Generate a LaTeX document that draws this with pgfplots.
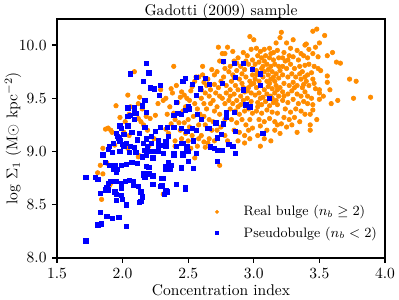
\documentclass[border=0pt]{standalone}
\usepackage{pgfplots}
\pgfplotsset{compat=1.18}
\usepackage{pgfplotstable}
\definecolor{borange}{HTML}{FF8C00}
\definecolor{bblue}{HTML}{0000FF}
\pgfplotsset{dotlegend/.style={legend image code/.code={\path (0pt,0pt) (20pt,0pt); \draw[mark repeat=2,mark phase=2,##1,mark size=1.05pt] plot coordinates {(0pt,0pt) (5pt,0pt) (10pt,0pt)};}}}
\pgfplotstableread{
x y
1.84 8.55
1.81 8.80
1.83 8.87
1.88 8.89
1.91 8.70
1.90 8.68
1.85 8.79
1.85 9.03
1.94 9.06
1.89 9.22
1.91 9.20
1.87 9.21
1.92 9.18
1.95 9.43
2.02 9.28
2.04 9.03
2.04 9.53
2.09 9.75
2.12 8.95
2.13 8.96
2.13 9.51
2.12 9.31
2.06 9.42
2.12 9.45
2.05 9.35
2.14 9.28
2.16 9.25
2.21 9.31
2.18 9.33
2.25 9.34
2.27 9.45
2.29 9.58
2.31 9.48
2.19 9.20
2.24 9.12
2.20 9.05
2.05 9.15
2.15 9.40
1.98 9.32
2.01 9.18
2.39 9.80
2.37 9.59
2.33 9.50
2.36 9.42
2.38 9.55
2.44 9.51
2.45 9.56
2.47 9.53
2.49 9.50
2.51 9.48
2.52 9.57
2.53 9.61
2.55 9.66
2.56 9.70
2.58 9.70
2.55 9.45
2.57 9.40
2.48 9.42
2.46 9.38
2.42 9.46
2.39 9.36
2.37 9.26
2.40 9.30
2.43 9.27
2.51 9.23
2.50 9.30
2.54 9.33
2.58 9.25
2.56 9.20
2.53 9.15
2.48 9.17
2.44 9.20
2.35 9.17
2.33 9.21
2.40 9.10
2.40 9.05
2.50 9.10
2.55 8.94
2.57 9.05
2.52 9.03
2.45 9.12
2.31 8.60
2.59 9.35
2.60 9.50
2.41 9.62
2.34 9.35
2.47 9.27
2.58 9.12
2.61 9.80
2.73 9.98
2.72 9.75
2.70 9.72
2.68 9.77
2.65 9.68
2.62 9.65
2.60 9.58
2.63 9.55
2.66 9.52
2.62 9.45
2.64 9.40
2.67 9.45
2.69 9.48
2.71 9.55
2.73 9.60
2.75 9.66
2.77 9.70
2.78 9.78
2.76 9.92
2.78 9.92
2.77 9.84
2.74 9.85
2.79 9.55
2.76 9.50
2.72 9.42
2.70 9.38
2.74 9.35
2.78 9.30
2.62 9.33
2.66 9.30
2.69 9.28
2.63 9.25
2.68 9.20
2.72 9.20
2.75 9.23
2.62 9.09
2.63 9.04
2.65 9.08
2.66 9.12
2.70 9.10
2.74 8.87
2.60 9.15
2.78 9.15
2.80 9.10
2.78 9.45
2.64 9.62
2.70 9.63
2.74 9.52
2.79 9.62
2.67 9.58
2.61 9.72
2.84 9.94
2.80 9.98
2.97 10.08
3.00 10.05
2.98 9.96
2.95 9.90
2.92 9.93
2.88 9.88
2.85 9.85
2.82 9.80
2.81 9.75
2.84 9.72
2.87 9.76
2.90 9.80
2.93 9.77
2.96 9.82
2.99 9.86
2.83 9.66
2.86 9.62
2.89 9.68
2.91 9.64
2.94 9.70
2.97 9.66
2.99 9.72
2.82 9.58
2.85 9.54
2.88 9.58
2.90 9.52
2.93 9.56
2.96 9.60
2.98 9.55
2.81 9.48
2.84 9.45
2.87 9.48
2.90 9.44
2.92 9.48
2.95 9.50
2.98 9.47
2.82 9.40
2.86 9.38
2.89 9.35
2.93 9.38
2.96 9.40
2.99 9.36
2.83 9.30
2.87 9.27
2.91 9.30
2.94 9.25
2.97 9.30
2.85 9.20
2.89 9.18
2.93 9.15
2.96 9.20
2.99 9.22
2.88 9.10
2.93 9.08
2.97 9.12
2.95 9.57
2.91 9.73
2.87 9.83
2.94 9.85
2.82 9.52
2.98 9.63
2.92 9.60
2.85 9.70
2.99 9.78
2.88 9.42
3.05 9.94
3.02 9.97
3.08 9.96
3.12 9.97
3.15 9.93
3.17 10.02
3.20 10.07
3.21 10.12
3.18 9.95
3.03 9.90
3.06 9.88
3.09 9.90
3.12 9.88
3.15 9.86
3.19 9.88
3.01 9.82
3.04 9.84
3.07 9.80
3.10 9.82
3.13 9.80
3.16 9.82
3.19 9.80
3.02 9.76
3.05 9.73
3.08 9.75
3.11 9.72
3.14 9.75
3.17 9.73
3.20 9.76
3.01 9.68
3.04 9.66
3.07 9.70
3.10 9.66
3.13 9.68
3.16 9.66
3.19 9.69
3.02 9.60
3.05 9.62
3.08 9.58
3.11 9.61
3.14 9.59
3.17 9.62
3.20 9.60
3.01 9.53
3.04 9.55
3.07 9.51
3.10 9.54
3.13 9.52
3.16 9.55
3.19 9.52
3.03 9.46
3.06 9.44
3.09 9.47
3.12 9.43
3.15 9.46
3.18 9.44
3.02 9.38
3.06 9.36
3.10 9.39
3.14 9.37
3.18 9.36
3.04 9.30
3.08 9.28
3.12 9.31
3.16 9.28
3.05 9.24
3.10 9.20
3.16 9.20
3.03 9.15
3.08 9.12
3.13 9.10
3.20 9.17
3.18 9.25
3.05 9.05
3.15 9.70
3.06 9.78
3.12 9.64
3.00 9.64
3.18 9.58
3.08 9.85
3.14 9.50
3.02 9.72
3.11 9.77
3.17 9.48
3.05 9.50
3.13 9.92
3.03 9.42
3.30 10.05
3.25 10.02
3.28 9.97
3.23 9.93
3.33 9.95
3.36 9.92
3.39 10.00
3.38 9.90
3.22 9.88
3.26 9.86
3.30 9.89
3.34 9.86
3.39 9.81
3.22 9.80
3.25 9.78
3.28 9.82
3.31 9.78
3.35 9.80
3.37 9.75
3.22 9.72
3.26 9.70
3.29 9.73
3.32 9.70
3.36 9.68
3.39 9.70
3.23 9.64
3.27 9.62
3.30 9.65
3.33 9.62
3.37 9.60
3.22 9.56
3.26 9.54
3.29 9.57
3.33 9.54
3.36 9.52
3.39 9.56
3.22 9.48
3.26 9.46
3.30 9.49
3.34 9.45
3.38 9.47
3.24 9.40
3.28 9.37
3.32 9.40
3.36 9.38
3.23 9.32
3.27 9.30
3.31 9.32
3.25 9.23
3.33 9.18
3.29 9.25
3.35 9.28
3.39 9.35
3.21 9.26
3.24 9.85
3.31 9.60
3.27 9.90
3.35 9.73
3.38 9.63
3.23 9.52
3.45 10.13
3.48 10.15
3.54 10.09
3.50 10.02
3.47 9.98
3.42 9.96
3.40 10.01
3.45 9.92
3.49 9.89
3.56 9.90
3.60 9.93
3.63 9.84
3.66 9.83
3.42 9.82
3.46 9.80
3.49 9.78
3.51 9.76
3.44 9.74
3.41 9.72
3.45 9.68
3.56 9.71
3.56 9.65
3.73 9.68
3.78 9.66
3.42 9.62
3.47 9.59
3.50 9.58
3.58 9.58
3.76 9.50
3.89 9.51
3.44 9.50
3.50 9.49
3.64 9.48
3.59 9.45
3.45 9.44
3.41 9.52
3.41 9.45
3.45 9.39
3.43 9.35
3.48 9.30
3.43 9.25
3.43 9.20
3.50 9.55
3.53 9.52
3.46 9.64
3.40 9.66
3.41 9.88
}\orangedata
\pgfplotstableread{
x y
1.72 8.16
1.72 8.76
1.79 8.76
1.81 8.74
1.83 8.61
1.83 8.43
1.81 8.31
1.84 8.32
1.88 8.39
1.92 8.37
1.97 8.38
2.03 8.30
2.03 8.50
2.00 8.55
1.95 8.54
1.94 8.62
1.87 8.64
1.89 8.70
1.91 8.72
1.95 8.72
1.99 8.70
2.02 8.72
2.08 8.72
2.12 8.67
2.13 8.52
2.15 8.58
2.14 8.62
2.23 8.69
2.30 8.75
2.30 8.68
2.34 8.62
2.32 8.60
2.41 8.69
2.48 8.65
2.45 8.84
2.54 8.84
2.50 8.91
2.39 8.97
2.46 8.97
2.49 9.00
2.36 8.83
2.33 8.86
2.23 8.77
2.16 8.79
2.17 8.76
2.18 8.86
2.11 8.89
2.07 8.90
2.03 8.88
1.99 8.87
1.96 8.83
1.94 8.87
1.90 8.87
1.87 8.90
1.85 8.97
1.92 8.99
1.98 9.00
2.05 8.99
2.10 8.99
2.18 8.97
2.24 9.00
1.89 9.02
1.98 9.10
2.00 9.07
1.97 9.13
2.03 9.08
2.06 9.05
2.09 9.04
1.93 8.83
1.95 8.81
1.92 8.72
1.88 8.66
1.89 8.64
1.95 8.60
1.99 8.59
1.99 8.66
2.05 8.73
2.08 8.68
2.18 9.12
2.22 9.08
2.27 9.10
2.30 9.06
2.33 9.05
2.17 9.01
2.20 9.00
2.23 9.00
2.27 9.00
2.31 8.98
2.39 8.98
2.46 8.98
2.50 9.00
2.56 8.98
2.41 9.05
2.46 9.08
2.15 8.95
2.23 8.94
2.35 8.90
2.37 8.87
2.45 8.85
2.20 8.85
2.33 8.83
2.16 8.78
2.20 8.79
2.31 8.75
2.29 8.67
2.33 8.63
2.48 8.66
2.15 8.57
2.14 8.53
2.72 8.91
2.67 9.04
2.70 9.03
2.72 9.01
2.18 9.83
2.06 9.73
2.20 9.74
2.16 9.66
2.21 9.60
2.24 9.59
2.29 9.62
2.48 9.69
2.46 9.66
2.53 9.63
2.56 9.70
2.17 9.48
2.15 9.43
2.09 9.39
2.10 9.36
2.18 9.37
2.39 9.34
2.42 9.36
2.45 9.35
2.48 9.39
2.50 9.42
2.57 9.35
2.04 9.33
2.09 9.30
1.99 9.22
2.04 9.24
1.98 9.24
1.95 9.17
1.96 9.14
2.01 9.16
2.07 9.18
2.13 9.17
2.17 9.23
2.22 9.14
2.25 9.19
2.29 9.23
2.34 9.23
2.35 9.14
2.33 9.09
2.39 9.23
2.45 9.22
2.49 9.19
2.53 9.22
2.56 9.20
2.45 9.08
2.49 9.05
2.54 9.10
2.11 9.11
2.16 9.08
2.01 9.05
2.19 9.05
2.27 9.05
1.93 9.08
1.90 9.05
2.04 9.41
2.09 9.41
2.06 9.34
2.28 9.53
2.41 9.46
2.56 9.53
2.51 9.40
2.60 9.30
2.65 9.22
2.77 9.85
2.85 9.83
2.92 9.83
2.99 9.77
3.05 9.73
2.86 9.70
2.63 9.69
2.66 9.63
2.76 9.64
2.59 9.59
2.92 9.58
3.05 9.62
3.12 9.50
2.94 9.44
2.97 9.42
2.79 9.37
2.85 9.37
2.79 9.32
2.66 9.22
2.71 9.27
2.77 9.26
2.86 9.19
3.07 9.17
2.75 9.16
2.72 9.13
2.81 9.07
2.84 9.05
2.67 9.05
2.76 9.01
2.86 8.98
}\bluedata
\begin{document}
\begin{tikzpicture}
\begin{axis}[
  scale only axis,
  width=211.3pt, height=153.9pt,
  xmin=1.5, xmax=4.0, ymin=8.0, ymax=10.245,
  xtick={1.5,2.0,2.5,3.0,3.5,4.0},
  ytick={8.0,8.5,9.0,9.5,10.0},
  tick pos=left, tick align=outside,
  major tick length=3.2pt,
  every tick/.style={black, line width=0.8pt},
  axis line style={line width=0.8pt},
  ticklabel style={/pgf/number format/fixed,/pgf/number format/fixed zerofill,/pgf/number format/precision=1},
  title={Gadotti (2009) sample},
  title style={yshift=-10pt},
  xlabel={Concentration index},
  xlabel shift=-3.2pt,
  ylabel={$\log\,\Sigma_1$ (M$\odot$ kpc$^{-2}$)},
  ylabel shift=-8.4pt,
  dotlegend,
  legend style={at={(1.0,0.05)}, anchor=south east, draw=none, fill=none, font=\fontsize{8.8}{10.2}\selectfont, row sep=1.6pt},
  legend cell align=left,
]
\addplot[only marks, mark=*, mark size=1.45pt, color=borange] table {\orangedata};
\addlegendentry{Real bulge ($n_b \geq 2$)}
\addplot[only marks, mark=square*, mark size=1.4pt, color=bblue] table {\bluedata};
\addlegendentry{Pseudobulge ($n_b < 2$)}
\end{axis}
\pgfresetboundingbox
\path[use as bounding box] ([xshift=-36.7pt,yshift=-27.05pt]current axis.south west) rectangle ([xshift=9.02pt,yshift=12.24pt]current axis.north east);
\end{tikzpicture}
\end{document}
